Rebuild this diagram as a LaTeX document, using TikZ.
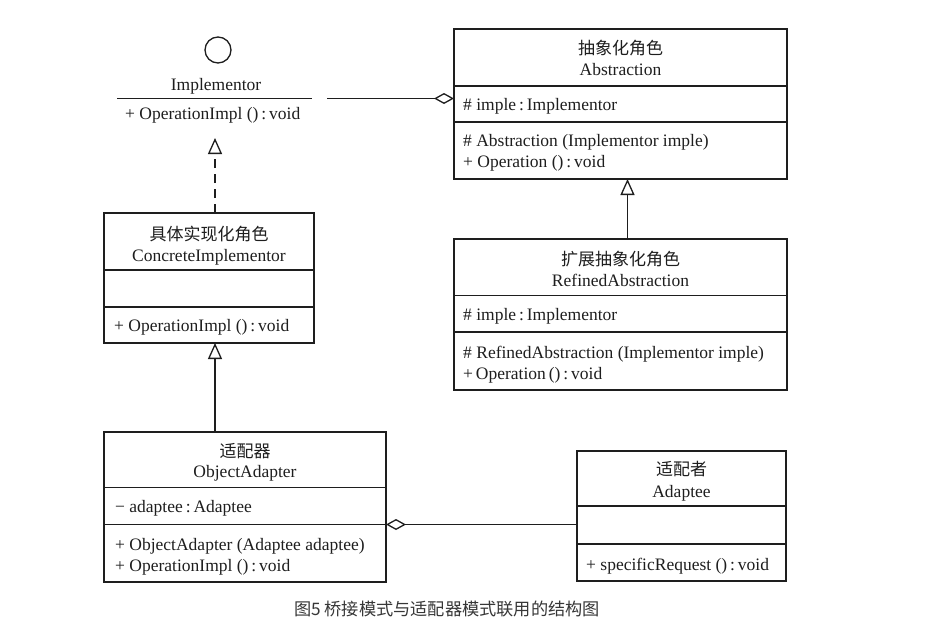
\documentclass[tikz,border=0pt]{standalone}
\usepackage{fontspec}
\setmainfont{Liberation Serif}
\newfontfamily\cjk{Noto Sans CJK SC}
\usetikzlibrary{arrows.meta}
\definecolor{capgray}{RGB}{55,55,55}
\definecolor{ink}{RGB}{30,30,30}
\begin{document}
\begin{tikzpicture}[x=1pt,y=-1pt,
  box/.style={draw=ink, line width=1.3pt, anchor=north west, inner sep=0pt, outer sep=0pt},
  ln/.style={draw=ink, line width=1.3pt},
  member/.style={anchor=base west, inner sep=0pt, text=ink, font=\fontsize{17.5}{20}\selectfont},
  cname/.style={anchor=base, inner sep=0pt, text=ink, font=\fontsize{17.5}{20}\selectfont},
  ctitle/.style={anchor=base, inner sep=0pt, text=ink, font=\cjk\fontsize{17}{20}\selectfont},
  inherit/.style={ln, -{Triangle[open, length=16pt, width=14pt, line width=1.3pt]}},
  aggr/.style={ln, -{Diamond[open, length=20pt, width=11pt, line width=1.3pt]}},
]
\fill[white] (0,0) rectangle (936,627);
\useasboundingbox (0,0) rectangle (936,627);

% Implementor (interface)
\draw[ln] (218,50) circle (13pt);
\node[cname] (implN) at (216,90) {Implementor};
\coordinate (implL) at (117,98.5);
\coordinate (implR) at (312,98.5);
\draw[ln] (implL) -- (implR);
\node[member] (implOp) at (125,119) {+ OperationImpl ()\,:\,void};
\coordinate (implend) at (327,98.5);
\coordinate (impltip) at (215,138);

% Abstraction
\node[box, minimum width=333pt, minimum height=150pt] (abs) at (454,29) {};
\draw[ln] (abs.west |- 0,86) -- (abs.east |- 0,86);
\draw[ln] (abs.west |- 0,122) -- (abs.east |- 0,122);
\node[ctitle] (absC) at (abs.north |- 0,54) {抽象化角色};
\node[cname] (absN) at (abs.north |- 0,75) {Abstraction};
\node[member] (absA) at (463,110) {\# imple\,:\,Implementor};
\node[member] (absO1) at (463,146) {\# Abstraction (Implementor imple)};
\node[member] (absO2) at (463,167) {+ Operation ()\,:\,void};

% RefinedAbstraction
\node[box, minimum width=333pt, minimum height=151pt] (ref) at (454,239) {};
\draw[ln] (ref.west |- 0,295.5) -- (ref.east |- 0,295.5);
\draw[ln] (ref.west |- 0,332) -- (ref.east |- 0,332);
\node[ctitle] (refC) at (ref.north |- 0,265) {扩展抽象化角色};
\node[cname] (refN) at (ref.north |- 0,286) {RefinedAbstraction};
\node[member] (refA) at (463,320) {\# imple\,:\,Implementor};
\node[member] (refO1) at (463,358) {\# RefinedAbstraction (Implementor imple)};
\node[member] (refO2) at (463,379) {+\,Operation\,()\,:\,void};

% ConcreteImplementor
\node[box, minimum width=210pt, minimum height=130pt] (ci) at (104,213) {};
\draw[ln] (ci.west |- 0,270) -- (ci.east |- 0,270);
\draw[ln] (ci.west |- 0,307) -- (ci.east |- 0,307);
\node[ctitle] (ciC) at (ci.north |- 0,240) {具体实现化角色};
\node[cname] (ciN) at (ci.north |- 0,261) {ConcreteImplementor};
\node[member] (ciO) at (114,331) {+ OperationImpl ()\,:\,void};

% ObjectAdapter
\node[box, minimum width=282pt, minimum height=150pt] (oa) at (104,432) {};
\draw[ln] (oa.west |- 0,487.5) -- (oa.east |- 0,487.5);
\draw[ln] (oa.west |- 0,524.5) -- (oa.east |- 0,524.5);
\node[ctitle] (oaC) at (oa.north |- 0,457) {适配器};
\node[cname] (oaN) at (oa.north |- 0,477) {ObjectAdapter};
\node[member] (oaA) at (115,512) {− adaptee\,:\,Adaptee};
\node[member] (oaO1) at (115,550) {+ ObjectAdapter (Adaptee adaptee)};
\node[member] (oaO2) at (115,571) {+ OperationImpl ()\,:\,void};

% Adaptee
\node[box, minimum width=209pt, minimum height=130pt] (ad) at (577,451) {};
\draw[ln] (ad.west |- 0,506) -- (ad.east |- 0,506);
\draw[ln] (ad.west |- 0,544) -- (ad.east |- 0,544);
\node[ctitle] (adC) at (ad.north |- 0,475) {适配者};
\node[cname] (adN) at (ad.north |- 0,497) {Adaptee};
\node[member] (adO) at (586,570) {+ specificRequest ()\,:\,void};

% connectors
\draw[aggr] (implend) -- (abs.west |- implend);
\draw[inherit, dash pattern=on 9pt off 6pt] (impltip |- ci.north) -- (impltip);
\draw[inherit] (ref.north -| 627.5,0) -- (abs.south -| 627.5,0);
\draw[inherit] (oa.north -| 215,0) -- (ci.south -| 215,0);
\draw[aggr] (ad.west |- 0,524.5) -- (oa.east |- 0,524.5);

% caption
\node[anchor=base, inner sep=0pt, text=capgray, font=\cjk\fontsize{17.2}{20}\selectfont] (cap) at (447,615) {图5 桥接模式与适配器模式联用的结构图};
\end{tikzpicture}
\end{document}
